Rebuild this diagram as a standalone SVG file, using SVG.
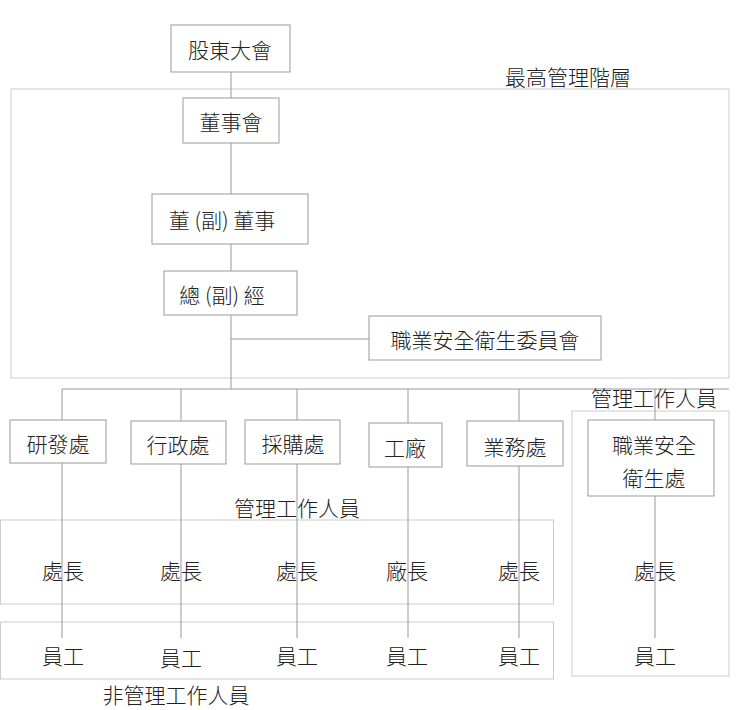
<svg xmlns="http://www.w3.org/2000/svg" width="740" height="710" viewBox="0 0 740 710">
<style>
text{font-family:"Noto Sans CJK TC","Noto Sans CJK SC",sans-serif;font-size:21px;font-weight:300;fill:#222;text-anchor:middle;dominant-baseline:central}
.n{fill:#fff;stroke:#999;stroke-width:1}
.g{fill:none;stroke:#ccc;stroke-width:1}
.c{stroke:#999;stroke-width:1;fill:none}
</style>
<rect width="740" height="710" fill="#fff"/>
<g id="groups">
<rect class="g" x="11" y="89" width="718" height="289"/>
<text x="568" y="76">最高管理階層</text>
<rect class="g" x="0.5" y="520" width="553" height="84"/>
<text x="297" y="507">管理工作人員</text>
<rect class="g" x="0.5" y="622" width="553" height="57"/>
<text x="176" y="694">非管理工作人員</text>
<rect class="g" x="572" y="411" width="157" height="265"/>
</g>
<g id="connectors">
<path class="c" d="M231 72V389M231 339H369M62 389H729M62 389V638M181 389V638M297 389V638M408 389V638M519 389V638M655 389V638"/>
</g>
<text x="654" y="397">管理工作人員</text>
<g id="n1"><rect class="n" x="171" y="25" width="119" height="47"/><text x="230" y="49">股東大會</text></g>
<g id="n2"><rect class="n" x="183" y="98" width="96" height="45"/><text x="231" y="121">董事會</text></g>
<g id="n3"><rect class="n" x="152" y="194" width="156" height="50"/><text x="222" y="219">董 (副) 董事</text></g>
<g id="n4"><rect class="n" x="164" y="271" width="133" height="44"/><text x="222" y="294">總 (副) 經</text></g>
<g id="n5"><rect class="n" x="369" y="316" width="232" height="44"/><text x="485" y="339">職業安全衛生委員會</text></g>
<g id="d1"><rect class="n" x="10" y="420" width="96" height="43"/><text x="58" y="443">研發處</text></g>
<g id="d2"><rect class="n" x="131" y="421" width="95" height="43"/><text x="178" y="444">行政處</text></g>
<g id="d3"><rect class="n" x="245" y="420" width="95" height="44"/><text x="293" y="443">採購處</text></g>
<g id="d4"><rect class="n" x="369" y="423" width="73" height="44"/><text x="405" y="447">工廠</text></g>
<g id="d5"><rect class="n" x="467" y="421" width="96" height="45"/><text x="515" y="446">業務處</text></g>
<g id="d6"><rect class="n" x="588" y="420" width="126" height="76"/><text x="654" y="444">職業安全</text><text x="654" y="477">衛生處</text></g>
<g id="m1"><text x="63" y="570">處長</text></g>
<g id="m2"><text x="181" y="570">處長</text></g>
<g id="m3"><text x="297" y="570">處長</text></g>
<g id="m4"><text x="407" y="570">廠長</text></g>
<g id="m5"><text x="519" y="570">處長</text></g>
<g id="m6"><text x="655" y="570">處長</text></g>
<g id="e1"><text x="63" y="655">員工</text></g>
<g id="e2"><text x="181" y="657">員工</text></g>
<g id="e3"><text x="297" y="655">員工</text></g>
<g id="e4"><text x="407" y="655">員工</text></g>
<g id="e5"><text x="519" y="655">員工</text></g>
<g id="e6"><text x="655" y="655">員工</text></g>
</svg>
